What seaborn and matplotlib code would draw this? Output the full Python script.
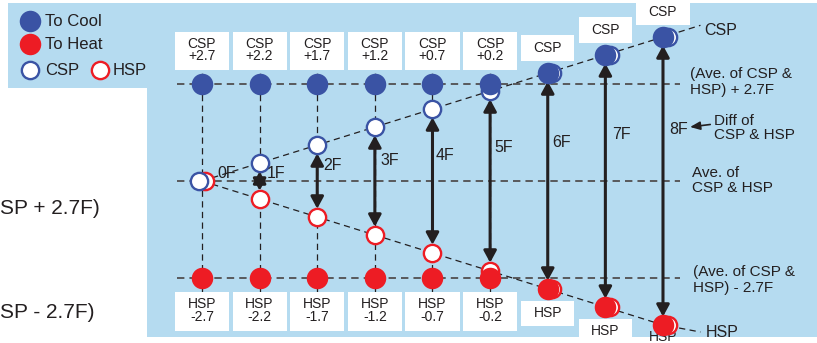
import numpy as np
import matplotlib
matplotlib.use("Agg")
import matplotlib.pyplot as plt
from matplotlib.patches import Rectangle
import seaborn as sns

# set point diagram: CSP / HSP spread apart 0F..8F around their average
cols = [0, 1, 2, 3, 4, 5, 6, 7, 8]
diff_labels = ["0F", "1F", "2F", "3F", "4F", "5F", "6F", "7F", "8F"]
csp = [0.0, 0.5, 1.0, 1.5, 2.0, 2.5, 3.0, 3.5, 4.0]
hsp = [0.0, -0.5, -1.0, -1.5, -2.0, -2.5, -3.0, -3.5, -4.0]
to_cool = [2.7, 2.7, 2.7, 2.7, 2.7, 2.7, 3.0, 3.5, 4.0]
to_heat = [-2.7, -2.7, -2.7, -2.7, -2.7, -2.7, -3.0, -3.5, -4.0]
cool_labels = ["CSP\n+2.7", "CSP\n+2.2", "CSP\n+1.7", "CSP\n+1.2", "CSP\n+0.7",
               "CSP\n+0.2", "CSP", "CSP", "CSP"]
heat_labels = ["HSP\n-2.7", "HSP\n-2.2", "HSP\n-1.7", "HSP\n-1.2", "HSP\n-0.7",
               "HSP\n-0.2", "HSP", "HSP", "HSP"]
band = 2.7

BLUE = "#3a53a4"
RED = "#ed1c24"
BG = "#b5dbf0"
INK = "#231f20"

sns.set_style("white")
plt.rcParams["font.family"] = ["Liberation Sans", "DejaVu Sans"]

fig = plt.figure(figsize=(8.17, 3.43), dpi=100)
ax = fig.add_axes([0, 0, 1, 1])
ax.set_xlim(-3.505, 10.6725)
ax.set_ylim(-4.5, 5.028)
ax.axis("off")

# light blue panels
ax.add_patch(Rectangle((-0.955, -4.333), 11.7, 9.277, fc=BG, ec="none", zorder=0))
ax.add_patch(Rectangle((-3.367, 2.583), 2.5, 2.361, fc=BG, ec="none", zorder=0))

# horizontal reference lines
ax.hlines([band, 0, -band], -0.43, 8.3, colors="#58595b", lw=1.4,
          linestyles=(0, (3.8, 2.6)), zorder=1)

# vertical guides for columns with fixed band
fixed = [c for c in cols if to_cool[c] == band]
ax.vlines(fixed, -3.08, 3.08, colors=INK, lw=0.9, linestyles=(0, (5, 3.5)), zorder=1)

# diagonal CSP / HSP lines, extended to their labels
tail_x = 8.65
step = csp[-1] - csp[-2]
ax.plot(cols + [tail_x], csp + [csp[-1] + step * (tail_x - cols[-1])],
        color=INK, lw=0.9, ls=(0, (5, 3.5)), zorder=1)
ax.plot(cols + [tail_x], hsp + [hsp[-1] - step * (tail_x - cols[-1]) * 0.6],
        color=INK, lw=0.9, ls=(0, (5, 3.5)), zorder=1)

# label boxes above / below
for c in cols:
    if to_cool[c] == band:
        ax.add_patch(Rectangle((c - 0.47, 3.08), 0.94, 1.06, fc="white", ec="none", zorder=2))
        ax.text(c, 3.64, cool_labels[c], ha="center", va="center", fontsize=10,
                linespacing=0.9, color=INK, zorder=3)
        ax.add_patch(Rectangle((c - 0.47, -4.17), 0.94, 1.09, fc="white", ec="none", zorder=2))
        ax.text(c, -3.6, heat_labels[c], ha="center", va="center", fontsize=10,
                linespacing=0.9, color=INK, zorder=3)
    else:
        yc = to_cool[c] + 0.7
        ax.add_patch(Rectangle((c - 0.46, yc - 0.36), 0.92, 0.72, fc="white", ec="none", zorder=2))
        ax.text(c, yc, cool_labels[c], ha="center", va="center", fontsize=10, color=INK, zorder=3)
        yh = to_heat[c] - 0.68
        ax.add_patch(Rectangle((c - 0.46, yh - 0.36), 0.92, 0.72, fc="white", ec="none", zorder=2))
        # last box runs off the bottom edge, keep its text just inside
        ax.text(c, max(yh, -4.34), heat_labels[c], ha="center", va="center", fontsize=10,
                color=INK, zorder=3)

# difference arrows
for c in cols[1:]:
    ax.annotate("", xy=(c, hsp[c]), xytext=(c, csp[c]),
                arrowprops=dict(arrowstyle="<|-|>,head_length=0.7,head_width=0.38",
                                lw=2.2, color=INK, shrinkA=6, shrinkB=6,
                                mutation_scale=10), zorder=3)

diff_y = [0.22, 0.22, 0.44, 0.58, 0.72, 0.94, 1.08, 1.28, 1.42]
diff_dx = [0.26, 0.12, 0.11, 0.09, 0.05, 0.08, 0.08, 0.12, 0.11]
for c in cols:
    ax.text(c + diff_dx[c], diff_y[c], diff_labels[c], ha="left", va="center",
            fontsize=11.5, color=INK, zorder=6)

# set point markers (open) and cool / heat markers (filled)
csp_dx = np.array([-0.05, 0, 0, 0, 0, 0, 0.08, 0.08, 0.08])
hsp_dx = np.array([0.05, 0, 0, 0, 0, 0, 0.08, 0.08, 0.08])
x = np.array(cols)
sns.scatterplot(x=x + hsp_dx, y=hsp, s=155, color="white", edgecolor=RED,
                linewidth=1.7, zorder=4, ax=ax)
sns.scatterplot(x=x + csp_dx, y=csp, s=155, color="white", edgecolor=BLUE,
                linewidth=1.7, zorder=4.5, ax=ax)
sns.scatterplot(x=x, y=to_cool, s=240, color=BLUE, linewidth=0, zorder=5, ax=ax)
sns.scatterplot(x=x, y=to_heat, s=240, color=RED, linewidth=0, zorder=5, ax=ax)

# hand-made legend
sns.scatterplot(x=[-2.985], y=[4.444], s=240, color=BLUE, linewidth=0, zorder=5, ax=ax)
sns.scatterplot(x=[-2.985], y=[3.806], s=240, color=RED, linewidth=0, zorder=5, ax=ax)
sns.scatterplot(x=[-2.985], y=[3.083], s=155, color="white", edgecolor=BLUE,
                linewidth=1.7, zorder=5, ax=ax)
sns.scatterplot(x=[-1.77], y=[3.083], s=155, color="white", edgecolor=RED,
                linewidth=1.7, zorder=5, ax=ax)
ax.text(-2.73, 4.43, "To Cool", fontsize=12, va="center", color=INK)
ax.text(-2.73, 3.79, "To Heat", fontsize=12, va="center", color=INK)
ax.text(-2.73, 3.07, "CSP", fontsize=12, va="center", color=INK)
ax.text(-1.55, 3.07, "HSP", fontsize=12, va="center", color=INK)

# right side notes
ax.text(8.71, 4.19, "CSP", fontsize=11.5, va="center", color=INK)
ax.text(8.75, -4.2, "HSP", fontsize=11.5, va="center", color=INK)
ax.text(8.47, 2.75, "(Ave. of CSP &\nHSP) + 2.7F", fontsize=11, va="center",
        linespacing=1.2, color=INK)
ax.text(8.88, 1.47, "Diff of\nCSP & HSP", fontsize=11, va="center",
        linespacing=1.05, color=INK)
ax.annotate("", xy=(8.47, 1.5), xytext=(8.82, 1.57),
            arrowprops=dict(arrowstyle="-|>,head_length=0.6,head_width=0.25",
                            lw=1.2, color=INK, shrinkA=0, shrinkB=0, mutation_scale=10))
ax.text(8.5, 0.01, "Ave. of\nCSP & HSP", fontsize=11, va="center",
        linespacing=1.05, color=INK)
ax.text(8.52, -2.75, "(Ave. of CSP &\nHSP) - 2.7F", fontsize=11, va="center",
        linespacing=1.2, color=INK)

# text trimmed at the left edge of the original figure
ax.text(-3.5, -0.75, "SP + 2.7F)", fontsize=15, ha="left", va="center", color=INK)
ax.text(-3.5, -3.66, "SP - 2.7F)", fontsize=15, ha="left", va="center", color=INK)

fig.savefig("out.png", dpi=100)
